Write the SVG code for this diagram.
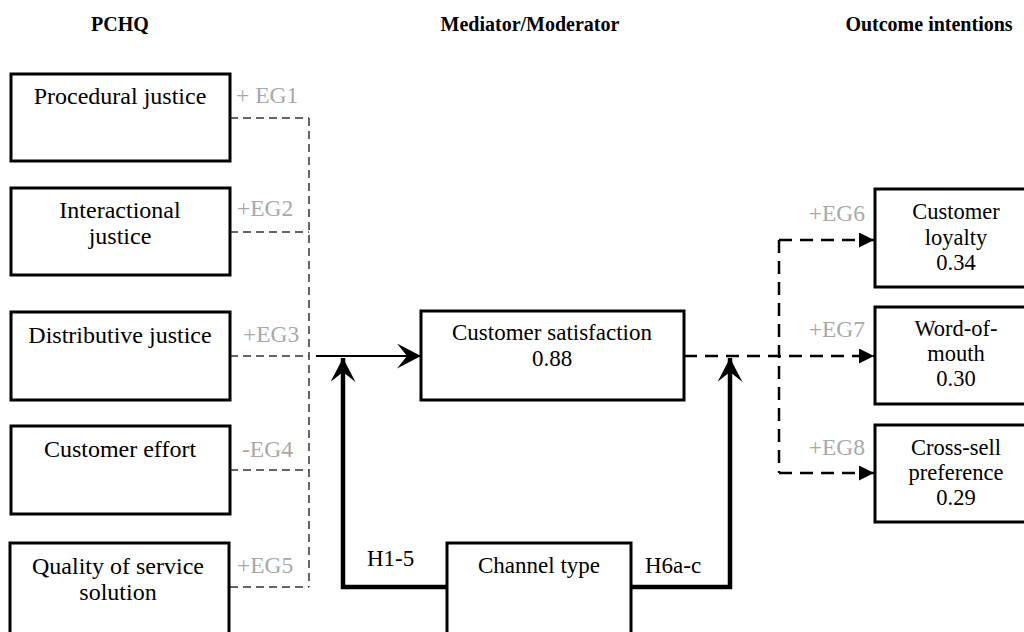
<svg xmlns="http://www.w3.org/2000/svg" width="1024" height="632" viewBox="0 0 1024 632">
<style>
text{font-family:"Liberation Serif","Times New Roman",serif;font-size:24px;fill:#000}
.h{font-weight:bold;font-size:20px}
.c{text-anchor:middle}
.m{font-size:23px}
.r{font-size:22.5px}
.eg{fill:#a8a8a8;font-size:23.5px}
.box{fill:#fff;stroke:#000;stroke-width:3}
.dl{fill:none;stroke:#333;stroke-width:1.5;stroke-dasharray:8 5}
.dr{fill:none;stroke:#000;stroke-width:2.5;stroke-dasharray:13 8}
.sl{fill:none;stroke:#000;stroke-width:2}
.th{fill:none;stroke:#000;stroke-width:4.5}
</style>
<defs>
<marker id="stealth" markerUnits="userSpaceOnUse" markerWidth="26" markerHeight="26" refX="24" refY="12.5" orient="auto">
<path d="M0,0 L24,12.5 L0,25 L10,12.5 Z" fill="#000"/>
</marker>
<marker id="tri" markerUnits="userSpaceOnUse" markerWidth="16" markerHeight="16" refX="15" refY="7.5" orient="auto">
<path d="M0,0 L15,7.5 L0,15 Z" fill="#000"/>
</marker>
</defs>
<g id="headers">
<text class="h c" x="120" y="31">PCHQ</text>
<text class="h c" x="530" y="31">Mediator/Moderator</text>
<text class="h c" x="929" y="31">Outcome intentions</text>
</g>
<g id="connectors">
<path class="dl" d="M230,118 H309 M230,232 H309 M230,356 H309 M230,470 H309 M230,587 H309 M309,118 V587"/>
<path class="sl" d="M316,356 H421" marker-end="url(#stealth)"/>
<path class="dr" d="M684,356 H874" marker-end="url(#tri)"/>
<path class="dr" d="M779,240 V473 M779,240 H874" marker-end="url(#tri)"/>
<path class="dr" d="M779,473 H874" marker-end="url(#tri)"/>
<path class="th" d="M447,587 H343 V358" marker-end="url(#stealth)"/>
<path class="th" d="M631,587 H730 V358" marker-end="url(#stealth)"/>
</g>
<g id="n1"><rect class="box" x="11" y="74" width="219" height="87"/><text class="c" x="120" y="104">Procedural justice</text></g>
<g id="n2"><rect class="box" x="11" y="188" width="219" height="87"/><text class="c" x="120" y="218">Interactional</text><text class="c" x="120" y="244">justice</text></g>
<g id="n3"><rect class="box" x="11" y="312" width="219" height="88"/><text class="c" x="120" y="343">Distributive justice</text></g>
<g id="n4"><rect class="box" x="11" y="426" width="219" height="88"/><text class="c" x="120" y="457">Customer effort</text></g>
<g id="n5"><rect class="box" x="10" y="543" width="219" height="100"/><text class="c" x="118" y="574">Quality of service</text><text class="c" x="118" y="600">solution</text></g>
<g id="eglabels">
<text class="eg" x="236" y="103">+ EG1</text>
<text class="eg" x="237" y="216">+EG2</text>
<text class="eg" x="243" y="342">+EG3</text>
<text class="eg" x="242" y="457">-EG4</text>
<text class="eg" x="237" y="573">+EG5</text>
<text class="eg" x="865" y="221" text-anchor="end">+EG6</text>
<text class="eg" x="865" y="337" text-anchor="end">+EG7</text>
<text class="eg" x="865" y="455" text-anchor="end">+EG8</text>
</g>
<g id="satisfaction"><rect class="box" x="421" y="311" width="263" height="89"/><text class="c m" x="552" y="340">Customer satisfaction</text><text class="c m" x="552" y="366">0.88</text></g>
<g id="channel"><rect class="box" x="447" y="543" width="184" height="100"/><text class="c m" x="539" y="573">Channel type</text></g>
<g id="hlabels"><text class="m" x="367" y="566">H1-5</text><text class="m" x="645" y="573">H6a-c</text></g>
<g id="loyalty"><rect class="box" x="875" y="189" width="170" height="98"/><text class="c r" x="956" y="219">Customer</text><text class="c r" x="956" y="245">loyalty</text><text class="c r" x="956" y="270">0.34</text></g>
<g id="wom"><rect class="box" x="875" y="307" width="170" height="97"/><text class="c r" x="956" y="336">Word-of-</text><text class="c r" x="956" y="361">mouth</text><text class="c r" x="956" y="386">0.30</text></g>
<g id="crosssell"><rect class="box" x="875" y="425" width="170" height="97"/><text class="c r" x="956" y="455">Cross-sell</text><text class="c r" x="956" y="480">preference</text><text class="c r" x="956" y="505">0.29</text></g>
</svg>
